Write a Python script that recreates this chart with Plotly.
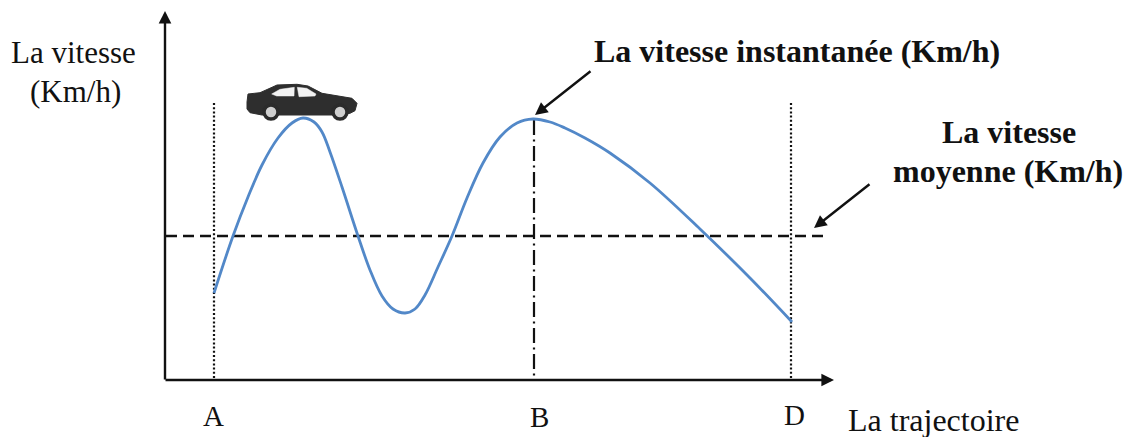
import plotly.graph_objects as go

curve_x = [214, 233, 248, 262, 278, 292, 303, 314, 322, 330, 342, 358, 370, 382, 393, 405, 415, 425, 438, 452, 467,
           483, 500, 517, 533, 550, 565, 585, 610, 650, 700, 750, 792]
curve_y = [293, 236, 197, 165, 138, 123, 118, 122, 132, 152, 187, 236, 270, 296, 309, 313, 309, 295, 267, 236, 198,
           163, 137, 123, 119, 122, 128, 138, 153, 183, 229, 278, 322]

mean_x = [166, 825]
mean_y = [236, 236]
a_x = [214, 214]
a_y = [103, 378]
b_x = [534, 534]
b_y = [120, 378]
d_x = [791, 791]
d_y = [103, 378]

car_x = [248, 260, 272, 277, 297, 308, 322, 340, 352, 357, 355, 350, 332, 262, 250, 247, 247, 248]
car_y = [94, 92.7, 87.3, 85, 84.3, 86, 93.3, 96, 98.3, 103.3, 110.7, 113.3, 115, 115, 112.7, 109, 102, 94]
window1_x = [271.7, 280, 294.3, 294, 276.7, 271.7]
window1_y = [94, 89.3, 87.3, 96, 96, 94]
window2_x = [297.3, 306.7, 316, 315, 299, 297.3]
window2_y = [87.3, 88.3, 94, 96, 96.7, 87.3]
wheel_x = [271, 340]
wheel_y = [112, 112]

serif = "Liberation Serif"
ink = "#111111"

fig = go.Figure()


def line(x, y, color=ink, width=1.5, dash="solid"):
    fig.add_trace(go.Scatter(x=x, y=y, mode="lines", line=dict(color=color, width=width, dash=dash),
                             hoverinfo="skip", showlegend=False))


line(a_x, a_y, width=2.2, dash="2px 2.2px")
line(d_x, d_y, width=2.2, dash="2px 2.2px")
line(b_x, b_y, width=2.2, dash="15px 4.5px 2px 4.5px")
line(mean_x, mean_y, width=2.6, dash="11px 6px")
fig.add_trace(go.Scatter(x=curve_x, y=curve_y, mode="lines",
                         line=dict(color="#5288c8", width=2.8, shape="spline", smoothing=1),
                         hoverinfo="skip", showlegend=False))

# car
fig.add_trace(go.Scatter(x=car_x, y=car_y, mode="lines", fill="toself", fillcolor="#2e2e2e",
                         line=dict(color="#2e2e2e", width=1), hoverinfo="skip", showlegend=False))
for wx, wy in [(window1_x, window1_y), (window2_x, window2_y)]:
    fig.add_trace(go.Scatter(x=wx, y=wy, mode="lines", fill="toself", fillcolor="#f2f2f2",
                             line=dict(color="#f2f2f2", width=0.5), hoverinfo="skip", showlegend=False))
fig.add_trace(go.Scatter(x=wheel_x, y=wheel_y, mode="markers",
                         marker=dict(size=14, color="#cfcfcf", line=dict(color="#2b2b2b", width=3.5)),
                         hoverinfo="skip", showlegend=False))

fig.update_layout(
    width=1125, height=437, margin=dict(l=0, r=0, t=0, b=0),
    paper_bgcolor="white", plot_bgcolor="white", showlegend=False,
    xaxis=dict(range=[0, 1125], visible=False, fixedrange=True),
    yaxis=dict(range=[437, 0], visible=False, fixedrange=True),
)


def arrow(x0, y0, x1, y1, width=2.4):
    fig.add_annotation(x=x1, y=y1, ax=x0, ay=y0, xref="x", yref="y", axref="x", ayref="y", text="",
                       showarrow=True, arrowhead=2, arrowsize=1.05, arrowwidth=width, arrowcolor=ink,
                       standoff=0, startstandoff=0)


arrow(165, 381, 165, 11)
arrow(164, 380, 834, 380)
arrow(592, 70, 535, 115)
arrow(871, 183, 814, 228)


def label(x, y, text, size=31, bold=False):
    if bold:
        text = "<b>" + text + "</b>"
    fig.add_annotation(x=x, y=y, xref="x", yref="y", text=text, showarrow=False, xanchor="center", yanchor="middle",
                       font=dict(family=serif, size=size, color=ink))


label(73, 52, "La vitesse")
label(75, 91, "(Km/h)")
label(797, 51, "La vitesse instantanée (Km/h)", size=32, bold=True)
label(1009, 132, "La vitesse", size=32, bold=True)
label(1008, 171, "moyenne (Km/h)", size=32, bold=True)
label(213, 416, "A", size=29)
label(539, 417, "B", size=29)
label(794, 415, "D", size=29)
label(933, 420, "La trajectoire", size=32)

fig.write_html("out.html", config=dict(displayModeBar=False),
               post_script="document.body.style.margin='0';")
